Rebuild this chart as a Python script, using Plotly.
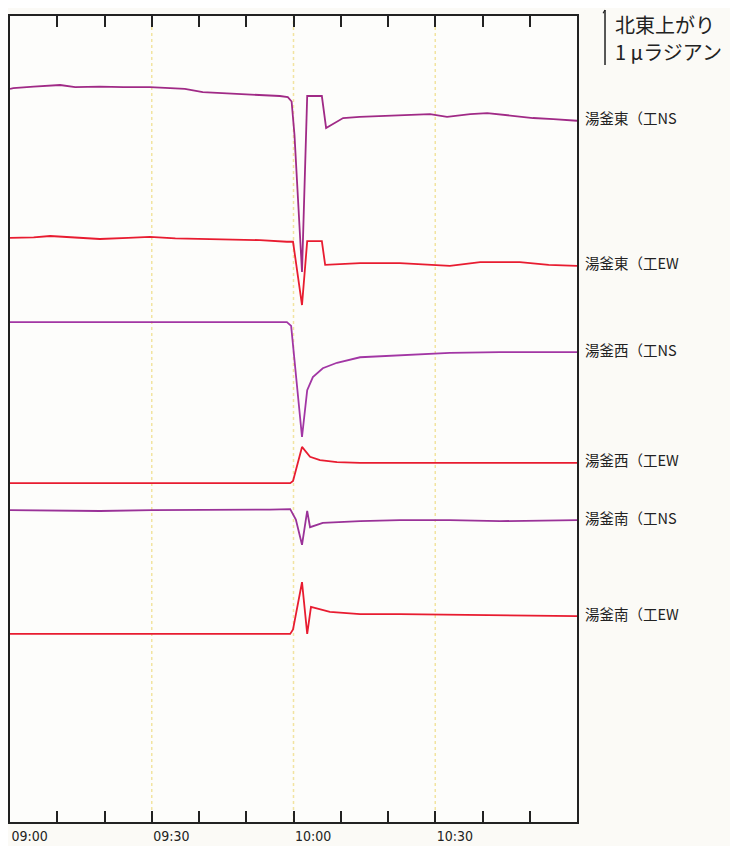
import pandas as pd
import plotly.graph_objects as go

# ---- data (minutes after 09:00, tilt in micro-radians on a common offset scale) ----
base_time = "2018-01-23 09:00"

t_ns_e = [0, 0.7, 5, 10.6, 13.8, 19, 24, 29.6, 33.9, 37, 40.8, 46, 50.8, 54, 57.1, 58.8, 59.6, 60.2, 61.8, 62.9,
          66.0, 66.9, 70.5, 74, 79.8, 84, 88.9, 92.5, 97.4, 101, 104, 110.7, 115, 120]
v_ns_e = [13.33, 13.345, 13.37, 13.40, 13.36, 13.37, 13.36, 13.36, 13.345, 13.33, 13.27, 13.25, 13.22, 13.21,
          13.20, 13.18, 13.10, 12.50, 10.00, 13.20, 13.20, 12.62, 12.80, 12.82, 12.84, 12.85, 12.87, 12.82, 12.87,
          12.89, 12.86, 12.80, 12.78, 12.75]

t_ew_e = [0, 5, 8.5, 15, 19, 25, 29.6, 35, 40.2, 46, 52.9, 58.6, 59.9, 61.8, 62.9, 66.0, 66.7, 74.1, 82.5,
          93.1, 99.5, 107.9, 114, 120]
v_ew_e = [10.62, 10.63, 10.655, 10.62, 10.60, 10.62, 10.64, 10.61, 10.60, 10.59, 10.58, 10.55, 10.55, 9.40, 10.56,
          10.56, 10.13, 10.16, 10.16, 10.11, 10.18, 10.18, 10.13, 10.11]

t_ns_w = [0, 58.6, 59.5, 61.8, 62.9, 63.5, 64.1, 66.2, 69.2, 74.1, 82.5, 93.1, 103.7, 120]
v_ns_w = [9.09, 9.09, 9.02, 7.00, 7.85, 7.98, 8.09, 8.25, 8.35, 8.45, 8.49, 8.53, 8.545, 8.545]

t_ew_w = [0, 59.3, 59.9, 61.8, 63.5, 65.6, 69.2, 74.1, 120]
v_ew_w = [6.16, 6.16, 6.20, 6.82, 6.64, 6.58, 6.545, 6.53, 6.53]

t_ns_s = [0, 10, 19, 30, 40.2, 50.8, 55, 59.3, 60.5, 61.8, 62.9, 63.5, 66.2, 74.1, 82.5, 93.1, 103.7, 120]
v_ns_s = [5.67, 5.66, 5.655, 5.67, 5.67, 5.67, 5.68, 5.69, 5.50, 5.04, 5.655, 5.36, 5.44, 5.47, 5.49, 5.49,
          5.47, 5.49]

t_ew_s = [0, 59.3, 59.9, 61.8, 62.9, 63.7, 67.7, 74.1, 82.5, 120]
v_ew_s = [3.42, 3.42, 3.50, 4.36, 3.42, 3.91, 3.82, 3.78, 3.78, 3.745]

series_names = ["湯釜東（工NS", "湯釜東（工EW", "湯釜西（工NS", "湯釜西（工EW", "湯釜南（工NS", "湯釜南（工EW"]
series_t = [t_ns_e, t_ew_e, t_ns_w, t_ew_w, t_ns_s, t_ew_s]
series_v = [v_ns_e, v_ew_e, v_ns_w, v_ew_w, v_ns_s, v_ew_s]
series_colors = ["#a02a86", "#e81c30", "#a236a4", "#e81c30", "#9a3298", "#e81c30"]

tick_minutes = list(range(0, 121, 10))
label_minutes = [0, 30, 60, 90]
grid_minutes = [30, 60, 90]
scale_text = ["北東上がり", "1 μラジアン"]
scale_len = 1.0  # micro-radian

y_range = [0, 14.655]

# ---- build ----
t0 = pd.Timestamp(base_time)
def to_time(m):
    return t0 + pd.to_timedelta(m, unit="min")

fig = go.Figure()
for name, ts, vs, col in zip(series_names, series_t, series_v, series_colors):
    fig.add_trace(go.Scatter(x=[to_time(m) for m in ts], y=vs, mode="lines", name=name,
                             line=dict(color=col, width=1.8), showlegend=False))

tickvals = [to_time(m) for m in tick_minutes]
ticktext = [to_time(m).strftime("%H:%M") if m in label_minutes else "" for m in tick_minutes]

fig.update_xaxes(range=[to_time(0), to_time(120)], tickvals=tickvals, ticktext=ticktext,
                 ticks="inside", ticklen=11, tickwidth=1.5, tickcolor="#222",
                 showline=True, linecolor="#222", linewidth=1.5, mirror="allticks",
                 showgrid=False, zeroline=False, ticklabelposition="outside right",
                 tickfont=dict(family="DejaVu Sans Condensed, DejaVu Sans", size=14, color="#222"))
fig.update_yaxes(range=y_range, showticklabels=False, ticks="", showgrid=False, zeroline=False,
                 showline=True, linecolor="#222", linewidth=1.5, mirror=True)

shapes = []
for m in grid_minutes:
    shapes.append(dict(type="line", xref="x", yref="paper", x0=to_time(m), x1=to_time(m), y0=0, y1=1,
                       line=dict(color="#f2e4a0", width=1.5, dash="dot"), layer="below"))

span = y_range[1] - y_range[0]
bar_top = 1 + 6 / 806
bar_bot = bar_top - scale_len / span
shapes.append(dict(type="line", xref="paper", yref="paper", x0=1.0494, x1=1.0494, y0=bar_bot, y1=bar_top,
                   line=dict(color="#222", width=1.5)))
shapes.append(dict(type="line", xref="paper", yref="paper", x0=1.0494, x1=1.046, y0=bar_top, y1=bar_top - 0.004,
                   line=dict(color="#222", width=1.2)))

annotations = []
for name, vs in zip(series_names, series_v):
    annotations.append(dict(x=1, xref="paper", y=vs[-1], yref="y", text=name, showarrow=False,
                            xanchor="left", yanchor="middle", xshift=6, yshift=3,
                            font=dict(family="Noto Sans CJK JP", size=14.5, color="#222")))
annotations.append(dict(x=1.0635, xref="paper", y=1 + 7.5 / 806, yref="paper", text=scale_text[0],
                        showarrow=False, xanchor="left", yanchor="top",
                        font=dict(family="Noto Sans CJK JP", size=20, color="#222")))
annotations.append(dict(x=1.0635, xref="paper", y=1 - 36 / 806, yref="paper", text=scale_text[1],
                        showarrow=False, xanchor="left", yanchor="middle",
                        font=dict(family="Noto Sans CJK JP", size=20, color="#222")))

fig.update_layout(width=730, height=838, margin=dict(l=2, r=161, t=8, b=24),
                  paper_bgcolor="#fbfaf6", plot_bgcolor="#fdfdfb",
                  shapes=shapes, annotations=annotations)

fig.write_html("out.html")
